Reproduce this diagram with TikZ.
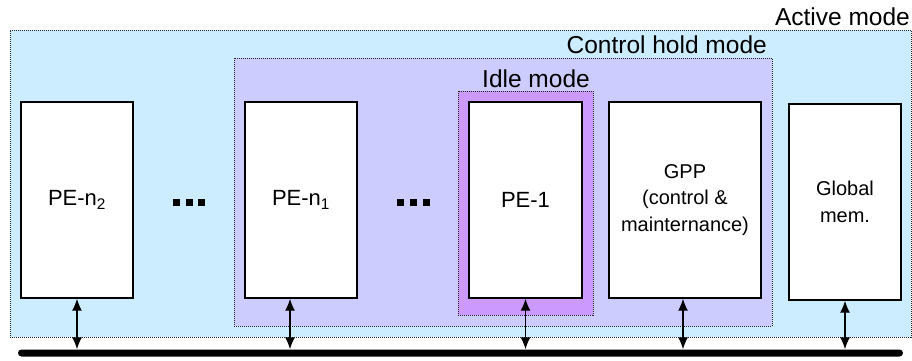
\documentclass[tikz,border=0pt]{standalone}
\usepackage{fontspec}
\setmainfont{Liberation Sans}
\usetikzlibrary{arrows.meta}

\definecolor{activebg}{RGB}{204,236,255}
\definecolor{holdbg}{RGB}{204,204,255}
\definecolor{idlebg}{RGB}{204,153,255}

\begin{document}
\begin{tikzpicture}[
      x=1pt, y=-1pt,
      mode/.style={rectangle, draw=black!85, line width=0.9pt, dash pattern=on 1pt off 1pt},
      block/.style={rectangle, draw=black, line width=1.4pt, fill=white, minimum height=196pt, align=center},
      link/.style={{Latex[length=12pt,width=10pt]}-{Latex[length=12pt,width=10pt]}, line width=1.3pt},
      lbl/.style={font=\fontsize{24.5}{28}\selectfont, inner sep=0pt},
      big/.style={font=\fontsize{22}{26}\selectfont},
      small/.style={font=\fontsize{20}{26.5}\selectfont}
    ]
    \useasboundingbox (0,0) rectangle (912,360);

    % nested power modes
    \node[mode, fill=activebg, minimum width=901pt, minimum height=307pt] (active) at (460.5,183.5) {};
    \node[mode, fill=holdbg, minimum width=538pt, minimum height=268pt] (hold) at (503,192) {};
    \node[mode, fill=idlebg, minimum width=135pt, minimum height=224pt] (idle) at (525.5,203) {};

    \node[lbl, anchor=base east] (activelbl) at (910,25) {Active mode};
    \node[lbl, anchor=base east] (holdlbl) at (767,53) {Control hold mode};
    \node[lbl, anchor=base east] (idlelbl) at (590,87) {Idle mode};

    % processing elements and memory
    \node[block, big, minimum width=112pt] (pen2) at (77,200) {PE-n\textsubscript{2}};
    \node[block, big, minimum width=112pt] (pen1) at (301,200) {PE-n\textsubscript{1}};
    \node[block, big, minimum width=113pt] (pe1) at (525.5,200) {PE-1};
    \node[block, small, minimum width=152pt] (gpp) at (685,200) {GPP\\(control \&\\mainternance)};
    \node[block, small, minimum width=112pt] (gmem) at (845,202) {Global\\mem.};

    \foreach \x in {173,186,198,397,410,423}
      \fill (\x,199) rectangle ++(7,7);

    % shared bus
    \node[rectangle, fill=black, rounded corners=3.5pt, minimum width=885pt, minimum height=7pt, inner sep=0pt] (bus) at (460.5,353) {};

    \draw[link] (pen2.south) -- (pen2.south |- bus.north);
    \draw[link] ([xshift=-11pt]pen1.south) -- ([xshift=-11pt]pen1.south |- bus.north);
    \draw[link] (pe1.south) -- (pe1.south |- bus.north);
    \draw[link] ([xshift=-2pt]gpp.south) -- ([xshift=-2pt]gpp.south |- bus.north);
    \draw[link] (gmem.south) -- (gmem.south |- bus.north);
  \end{tikzpicture}
\end{document}
